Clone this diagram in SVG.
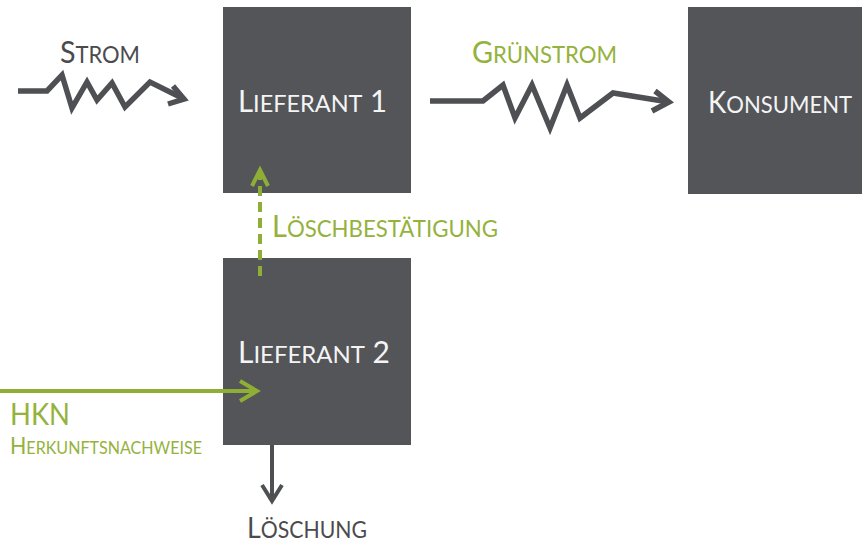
<svg xmlns="http://www.w3.org/2000/svg" width="862" height="546" viewBox="0 0 862 546">
<style>
.box{fill:#535559}
.t{font-family:Lato,"Open Sans","Liberation Sans",sans-serif}
.w{fill:#f4f4f4}
.g{fill:#94b23c}
.d{fill:#4b4b4e}
.zz{fill:none;stroke:#4f5054;stroke-width:5.5;stroke-linejoin:miter;stroke-linecap:butt}
.ga{fill:none;stroke:#8fae36;stroke-width:4}
.da{fill:none;stroke:#4f5054;stroke-width:4}
</style>
<rect width="862" height="546" fill="#ffffff"/>
<g id="lieferant1">
<rect class="box" x="223" y="7" width="188" height="186"/>
<text class="t w" x="238" y="112" textLength="149" lengthAdjust="spacingAndGlyphs"><tspan font-size="30">L</tspan><tspan font-size="24">IEFERANT</tspan><tspan font-size="30"> 1</tspan></text>
</g>
<g id="konsument">
<rect class="box" x="688" y="7" width="174" height="187"/>
<text class="t w" x="708" y="113" textLength="144" lengthAdjust="spacingAndGlyphs"><tspan font-size="30">K</tspan><tspan font-size="24">ONSUMENT</tspan></text>
</g>
<g id="lieferant2">
<rect class="box" x="223" y="258" width="188" height="187"/>
<text class="t w" x="238" y="363" textLength="152" lengthAdjust="spacingAndGlyphs"><tspan font-size="30">L</tspan><tspan font-size="24">IEFERANT</tspan><tspan font-size="30"> 2</tspan></text>
</g>
<g id="connectors">
<g id="strom">
<polyline class="zz" points="18,91 47,91 62,75 72,108 87,82 97,100 112,83 125,107 150,82 184,99"/>
<polyline class="zz" points="173,86 184,99 168,104"/>
<text class="t d" x="60" y="63" textLength="80" lengthAdjust="spacingAndGlyphs"><tspan font-size="30">S</tspan><tspan font-size="23">TROM</tspan></text>
</g>
<g id="gruenstrom">
<polyline class="zz" points="430,101 483,101 503,85 515,118 532,85 550,128 567,85 580,118 613,93 669,102"/>
<polyline class="zz" points="655,91 669,102 652,111"/>
<text class="t g" x="472" y="63" textLength="145" lengthAdjust="spacingAndGlyphs"><tspan font-size="30">G</tspan><tspan font-size="23">RÜNSTROM</tspan></text>
</g>
<g id="loeschbestaetigung">
<line class="ga" x1="260" y1="276" x2="260" y2="172" stroke-dasharray="10,6"/>
<polyline class="ga" points="252,186 260,170 268,186"/>
<text class="t g" x="272" y="237" textLength="226" lengthAdjust="spacingAndGlyphs"><tspan font-size="30">L</tspan><tspan font-size="23">ÖSCHBESTÄTIGUNG</tspan></text>
</g>
<g id="hkn">
<line class="ga" x1="0" y1="391" x2="257" y2="391"/>
<polyline class="ga" points="240,381 257,391 240,401"/>
<text class="t g" x="10" y="425" font-size="31" textLength="60" lengthAdjust="spacingAndGlyphs">HKN</text>
<text class="t g" x="10" y="454" textLength="192" lengthAdjust="spacingAndGlyphs"><tspan font-size="24">H</tspan><tspan font-size="18">ERKUNFTSNACHWEISE</tspan></text>
</g>
<g id="loeschung">
<line class="da" x1="272" y1="445" x2="272" y2="501"/>
<polyline class="da" points="262,485 272,501 282,485"/>
<text class="t d" x="247" y="538" textLength="120" lengthAdjust="spacingAndGlyphs"><tspan font-size="29">L</tspan><tspan font-size="23">ÖSCHUNG</tspan></text>
</g>
</g>
</svg>
